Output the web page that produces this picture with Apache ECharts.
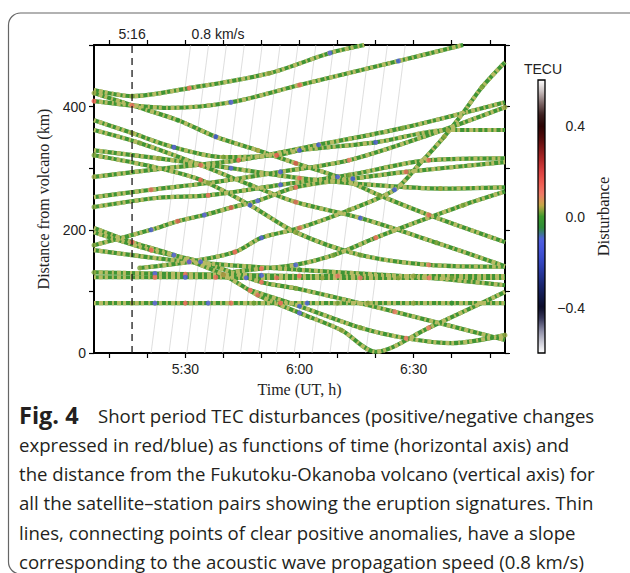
<!DOCTYPE html>
<html><head><meta charset="utf-8">
<script src="https://cdn.jsdelivr.net/npm/echarts@6/dist/echarts.min.js"></script>
<style>html,body{margin:0;padding:0;background:#fff}#c{width:630px;height:573px}</style>
</head><body><div id="c"></div>
<script>
// ---- axes (time in minutes since 0:00 UT, distance in km) ----
const timeMin = 306, timeMax = 414;
const distMin = 0, distMax = 500, distInterval = 100;
const timeTicks = [310, 320, 330, 340, 350, 360, 370, 380, 390, 400, 410];
const timeLabels = [330, 360, 390];
const distLabels = [0, 200, 400];
const eruptionTime = 316, eruptionLabel = '5:16';
const speedLabel = '0.8 km/s', speedLabelTime = 338.6;
const colorbarMin = -0.6, colorbarMax = 0.6;
const colorbarTicks = [-0.4, 0, 0.4];

// thin lines: 0.8 km/s slope (time at 0 km, time at 500 km)
const speedLineBottomTimes = [321.0, 325.7, 330.4, 335.1, 339.8, 344.5, 349.2, 353.9, 358.6, 363.3, 368.0, 372.7, 377.4];
const speedLineTopTimes    = [331.4, 336.1, 340.8, 345.5, 350.2, 354.9, 359.6, 364.3, 369.0, 373.7, 378.4, 383.1, 387.8];

// satellite-station tracks: [time(min), distance(km), disturbance(TECU)]
const track01 = [[306,427,0],[316,417,0.02],[331,430,0.12],[352,454,0.03],[368,487,-0.1],[377,500,0]];
const track02 = [[306,409,0.15],[326,398,0],[342,407,-0.12],[360,435,0.13],[386,474,-0.1],[403,500,0]];
const track03 = [[306,422,0.03],[316,402,0.12],[328,378,-0.02],[338,351,-0.15],[349,329,0.04],[359,308,0.15],[370,286,-0.12],[381,256,0.02],[394,224,0.12],[414,180,0]];
const track04 = [[306,378,0],[316,357,0.03],[327,334,-0.14],[340,318,0.02],[354,321,0.16],[360,329,-0.15],[380,342,-0.13],[399,362,0.03],[414,362,0]];
const track05 = [[306,362,0],[318,341,0.02],[334,305,0.13],[347,273,-0.03],[359,245,0.12],[376,219,-0.12],[396,179,0.02],[414,141,0]];
const track06 = [[306,321,0.02],[321,303,0],[334,281,0.14],[347,240,-0.14],[359,196,0.03],[376,159,0.02],[394,143,0.1],[414,140,0]];
const track07 = [[306,329,0],[323,316,0.03],[342,300,-0.12],[360,284,0.12],[381,272,0],[397,267,0.03],[414,269,0]];
const track08 = [[306,286,0.03],[325,300,0],[344,313,0.14],[365,338,-0.13],[387,365,0.02],[414,407,0]];
const track09 = [[306,253,0],[321,265,0.12],[336,276,0.02],[355,294,-0.13],[373,313,0.1],[394,354,0],[414,399,0.03]];
const track10 = [[306,237,0.02],[323,252,0],[336,256,0.13],[355,273,-0.14],[373,289,0.02],[394,313,0.12],[414,316,0]];
const track11 = [[306,175,0.02],[321,200,-0.13],[328,214,0.14],[335,224,-0.12],[342,236,0.15],[349,247,-0.1],[359,269,0.13],[374,283,-0.12],[388,294,0.12],[414,310,0]];
const track12 = [[306,203,0],[316,180,0.13],[327,159,-0.12],[340,127,0.14],[349,94,0.12],[360,65,-0.12],[371,37,0.03],[380,2,0],[394,41,0.1],[414,99,0]];
const track13 = [[306,196,0],[321,167,0.14],[334,148,-0.13],[350,115,0.12],[359,105,0.02],[385,67,0.1],[414,21,0]];
const track14 = [[306,167,0],[331,148,0.13],[360,135,-0.03],[394,122,0.1],[414,110,0]];
const track15 = [[318,138,0.02],[331,148,-0.12],[343,164,0.14],[350,187,-0.13],[360,203,0.12],[373,232,0.02],[385,265,-0.1],[392,310,0],[398,351,0.03],[403,390,0],[408,432,0.02],[414,472,0]];
const track16 = [[306,131,0.02],[322,129,-0.12],[330,128,0.12],[340,127,0.03],[350,126,-0.12],[360,125,0.13],[370,125,0.1],[390,125,0.03],[414,125,0]];
const track17 = [[306,123,0],[322,123,0.12],[330,123,-0.12],[338,123,0.13],[346,122,-0.12],[354,122,0.12],[366,122,0.03],[376,122,0.1],[386,122,0.03],[400,122,0.02],[414,122,0]];
const track18 = [[306,81,0],[316,81,0.03],[322,81,-0.12],[330,81,0.13],[336,81,-0.1],[342,81,0.12],[348,81,0.02],[355,81,0.14],[362,81,-0.1],[370,81,0.02],[378,81,0.03],[390,81,0.03],[400,81,-0.03],[414,81,0]];
const track19 = [[347,102,0.13],[360,76,-0.1],[376,41,0.02],[388,24,0.1],[400,16,0],[414,29,0.03]];
const track20 = [[342,131,0],[350,137,0.12],[359,143,-0.1],[369,159,0.02],[380,187,0.13],[391,213,0],[403,240,0.02],[414,262,0]];
const tracks = [track01,track02,track03,track04,track05,track06,track07,track08,track09,track10,
                track11,track12,track13,track14,track15,track16,track17,track18,track19,track20];

const captionLabel = 'Fig. 4';
const captionLines = [
  'Short period TEC disturbances (positive/negative changes',
  'expressed in red/blue) as functions of time (horizontal axis) and',
  'the distance from the Fukutoku-Okanoba volcano (vertical axis) for',
  'all the satellite\u2013station pairs showing the eruption signatures. Thin',
  'lines, connecting points of clear positive anomalies, have a slope',
  'corresponding to the acoustic wave propagation speed (0.8 km/s)'
];

// colour scale stops from -0.6 to 0.6
const colorStops = ['#ffffff','#c8c8d4','#8a8aa4','#3a3a5c','#0c0c28','#121a4c','#1a2670','#26369a','#3446c0','#4354d8','#5060e0','#2e8c3a',
  '#3e9a2c','#c8a848','#f07868','#ee5a50','#d84040','#b02828','#801818','#4e0a0a','#2a0404','#3e2222','#806a6a','#c8bebe','#ffffff'];

const sans = 'Liberation Sans, Arial, sans-serif';
const serif = 'Liberation Serif, Times New Roman, serif';
const fmtTime = v => Math.floor(v / 60) + ':' + String(Math.round(v % 60)).padStart(2, '0');
const fmtTecu = v => (v < 0 ? '\u2212' : '') + Math.abs(v).toFixed(1);

const chart = echarts.init(document.getElementById('c'), null, {renderer: 'svg'});

const series = [];
speedLineBottomTimes.forEach((b, i) => series.push({
  type: 'line', data: [[b, distMin], [speedLineTopTimes[i], distMax]], symbol: 'none', silent: true, z: 1,
  lineStyle: {color: '#c8c8c8', width: 0.6}
}));
tracks.forEach(tr => {
  const pts = tr.map(p => [p[0], p[1]]);
  series.push({type: 'line', data: pts, smooth: 0.3, symbol: 'none', silent: true, z: 3,
    lineStyle: {color: '#3f9434', width: 4.2}});
  series.push({type: 'line', data: pts, smooth: 0.3, symbol: 'none', silent: true, z: 4,
    lineStyle: {color: '#b7bb64', width: 4.2, type: [2, 3, 4, 2, 3, 4]}});
});
const markerIndex = series.length;
series.push({type: 'scatter', data: tracks.flat().filter(p => Math.abs(p[2]) >= 0.02), symbolSize: 5, z: 5, silent: true});
series.push({type: 'line', data: [[eruptionTime, distMin], [eruptionTime, distMax]], symbol: 'none', silent: true, z: 6,
  lineStyle: {color: '#1a1a1a', width: 1.3, type: [7, 5]}});

const axisLine = {show: true, onZero: false, lineStyle: {color: '#000', width: 2}};
const tick = {show: true, length: 5, lineStyle: {color: '#000', width: 1.2}};
const label = {color: '#222', fontFamily: sans, fontSize: 14};

const option = {
  animation: false,
  backgroundColor: '#fff',
  grid: [
    {left: 94, top: 45, width: 411, height: 308, containLabel: false, outerBoundsMode: 'none'},
    {left: 538, top: 80, width: 7, height: 273, containLabel: false, outerBoundsMode: 'none'}
  ],
  xAxis: [
    {type: 'value', gridIndex: 0, position: 'bottom', min: timeMin, max: timeMax, axisLine,
     axisTick: Object.assign({customValues: timeTicks}, tick),
     axisLabel: Object.assign({customValues: timeLabels, formatter: fmtTime, margin: 9}, label),
     splitLine: {show: false},
     name: 'Time (UT, h)', nameLocation: 'middle', nameGap: 28,
     nameTextStyle: {fontFamily: serif, fontSize: 16, color: '#222'}},
    {type: 'value', gridIndex: 0, position: 'top', min: timeMin, max: timeMax, axisLine,
     axisTick: Object.assign({customValues: timeTicks}, tick), axisLabel: {show: false}, splitLine: {show: false}},
    {type: 'value', gridIndex: 1, show: false, min: 0, max: 1}
  ],
  yAxis: [
    {type: 'value', gridIndex: 0, position: 'left', min: distMin, max: distMax, interval: distInterval, axisLine,
     axisTick: tick, axisLabel: Object.assign({customValues: distLabels, margin: 8}, label), splitLine: {show: false},
     name: 'Distance from volcano (km)', nameLocation: 'middle', nameGap: 42, nameRotate: 90,
     nameTextStyle: {fontFamily: serif, fontSize: 16, color: '#222'}},
    {type: 'value', gridIndex: 0, position: 'right', min: distMin, max: distMax, interval: distInterval, axisLine,
     axisTick: tick, axisLabel: {show: false}, splitLine: {show: false}},
    {type: 'value', gridIndex: 1, position: 'right', min: colorbarMin, max: colorbarMax,
     axisLine: {show: false}, splitLine: {show: false},
     axisTick: Object.assign({customValues: colorbarTicks}, tick),
     axisLabel: Object.assign({customValues: colorbarTicks, formatter: fmtTecu, align: 'right', margin: 40}, label),
     name: 'Disturbance', nameLocation: 'middle', nameGap: 50, nameRotate: 90,
     nameTextStyle: {fontFamily: serif, fontSize: 16.5, color: '#222'}}
  ],
  visualMap: [{
    type: 'continuous', min: colorbarMin, max: colorbarMax, dimension: 2, seriesIndex: markerIndex,
    orient: 'vertical', left: 538, top: 80, itemWidth: 7, itemHeight: 273, calculable: false, padding: 0,
    hoverLink: false, inRange: {color: colorStops}
  }],
  series
};
chart.setOption(option);

const pE = chart.convertToPixel({xAxisIndex: 0, yAxisIndex: 0}, [eruptionTime, distMax]);
const pS = chart.convertToPixel({xAxisIndex: 0, yAxisIndex: 0}, [speedLabelTime, distMax]);
const capFont = 'Open Sans, sans-serif';
const capSize = 18.6;
const graphic = [
  {type: 'rect', shape: {x: 8.5, y: 13, width: 640, height: 561, r: 12}, silent: true, z: 0,
   style: {fill: 'none', stroke: '#666', lineWidth: 1.2}},
  {type: 'rect', shape: {x: 538, y: 80, width: 7, height: 273}, silent: true, z: 100,
   style: {fill: 'none', stroke: '#000', lineWidth: 1.3}},
  {type: 'text', x: 543, y: 69, silent: true, z: 100,
   style: {text: 'TECU', font: '14px ' + sans, fill: '#222', align: 'center', verticalAlign: 'middle'}},
  {type: 'text', x: pE[0], y: pE[1] - 11, silent: true, z: 100,
   style: {text: eruptionLabel, font: '14px ' + sans, fill: '#222', align: 'center', verticalAlign: 'middle'}},
  {type: 'text', x: pS[0], y: pS[1] - 11, silent: true, z: 100,
   style: {text: speedLabel, font: '14px ' + sans, fill: '#222', align: 'center', verticalAlign: 'middle'}}
];
captionLines.forEach((ln, i) => {
  graphic.push({type: 'text', x: 19, y: 415 + i * 29.3, silent: true, z: 100,
    style: i === 0
      ? {text: '{b|' + captionLabel + '}' + ln,
         rich: {b: {fontWeight: 'bold', fontFamily: capFont, fontSize: 23.5, fill: '#231f20', width: 79}},
         fontFamily: capFont, fontSize: capSize, fill: '#231f20', verticalAlign: 'middle'}
      : {text: ln, font: capSize + 'px ' + capFont, fill: '#231f20', verticalAlign: 'middle'}});
});
chart.setOption({graphic});
</script></body></html>
